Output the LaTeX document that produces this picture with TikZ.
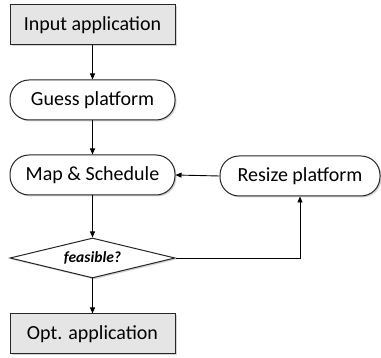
\documentclass[tikz,border=0pt]{standalone}
\usepackage{fontspec}
\setmainfont{Carlito}
\usetikzlibrary{shapes.geometric,shadows,arrows.meta}
\begin{document}
\begin{tikzpicture}[x=1pt,y=-1pt,
  base/.style={draw=black!85, line width=1pt, minimum width=165pt, minimum height=40pt, inner sep=0pt, font=\fontsize{20}{24}\selectfont, drop shadow={shadow xshift=1.5pt, shadow yshift=-1.5pt, opacity=0.35}},
  iobox/.style={base, rectangle, fill=black!10},
  proc/.style={base, rectangle, rounded corners=19pt, fill=white},
  decide/.style={base, diamond, aspect=4, fill=white, font=\fontsize{15.5}{18}\selectfont\bfseries\itshape},
  conn/.style={draw=black, line width=0.9pt, -{Triangle[length=6pt,width=5pt]}}
]
\useasboundingbox (0,0) rectangle (381,358);
\node[iobox] (in) at (92.5,25) {Input application};
\node[proc] (guess) at (92.5,100) {Guess platform};
\node[proc] (map) at (92.5,175) {Map \& Schedule};
\node[proc, minimum width=160pt] (resize) at (300,176) {Resize platform};
\node[decide] (feas) at (92.5,258) {feasible?};
\node[iobox] (out) at (92.5,334) {Opt. application};
\draw[conn] (in) -- (guess);
\draw[conn] (guess) -- (map);
\draw[conn] (map) -- (feas);
\draw[conn] (feas) -- (out);
\draw[conn] (resize.west) -- (map.east);
\draw[conn] (feas.east) -| (resize.south);
\end{tikzpicture}
\end{document}
